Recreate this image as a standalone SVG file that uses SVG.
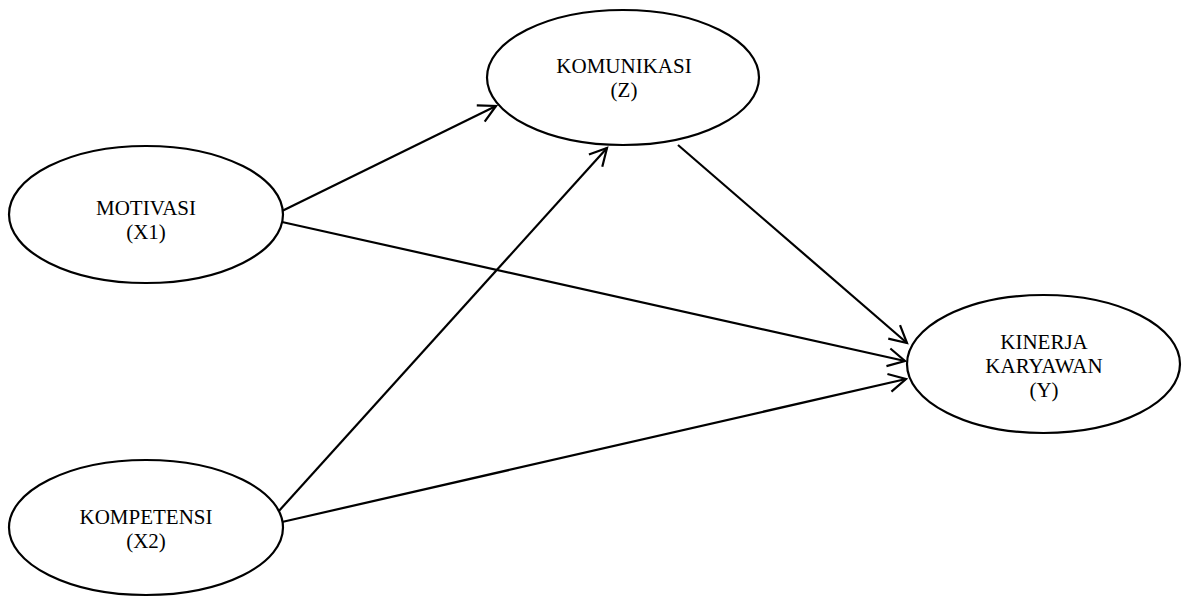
<svg xmlns="http://www.w3.org/2000/svg" width="1185" height="597" viewBox="0 0 1185 597">
<style>
.node{fill:#fff;stroke:#000;stroke-width:2.2}
.lbl{font-family:"Liberation Serif","Times New Roman",serif;font-size:21px;fill:#000;text-anchor:middle}
.edge{fill:none;stroke:#000;stroke-width:2.2}
</style>
<defs>
<marker id="arr" markerUnits="userSpaceOnUse" viewBox="-22 -12 24 24" refX="0" refY="0" markerWidth="24" markerHeight="24" orient="auto" overflow="visible">
<path d="M-17,-9 L0,0 L-17,9" fill="none" stroke="#000" stroke-width="2.2"/>
</marker>
</defs>
<rect width="1185" height="597" fill="#fff"/>
<g id="connectors">
<line class="edge" x1="282" y1="211" x2="496" y2="106" marker-end="url(#arr)"/>
<line class="edge" x1="282" y1="222" x2="905" y2="361" marker-end="url(#arr)"/>
<line class="edge" x1="278" y1="512" x2="607" y2="148" marker-end="url(#arr)"/>
<line class="edge" x1="282" y1="522" x2="906" y2="379" marker-end="url(#arr)"/>
<line class="edge" x1="678" y1="145" x2="907" y2="343" marker-end="url(#arr)"/>
</g>
<g id="motivasi">
<ellipse class="node" cx="146" cy="214.5" rx="137" ry="68.5"/>
<text class="lbl" x="146" y="215">MOTIVASI</text>
<text class="lbl" x="146" y="239">(X1)</text>
</g>
<g id="komunikasi">
<ellipse class="node" cx="623" cy="77.5" rx="136" ry="67.5"/>
<text class="lbl" x="624" y="73">KOMUNIKASI</text>
<text class="lbl" x="624" y="97">(Z)</text>
</g>
<g id="kinerja">
<ellipse class="node" cx="1043.5" cy="364" rx="136.5" ry="69"/>
<text class="lbl" x="1044" y="349">KINERJA</text>
<text class="lbl" x="1044" y="373">KARYAWAN</text>
<text class="lbl" x="1044" y="397">(Y)</text>
</g>
<g id="kompetensi">
<ellipse class="node" cx="146" cy="527.5" rx="137" ry="67.5"/>
<text class="lbl" x="146" y="524">KOMPETENSI</text>
<text class="lbl" x="146" y="548">(X2)</text>
</g>
</svg>
